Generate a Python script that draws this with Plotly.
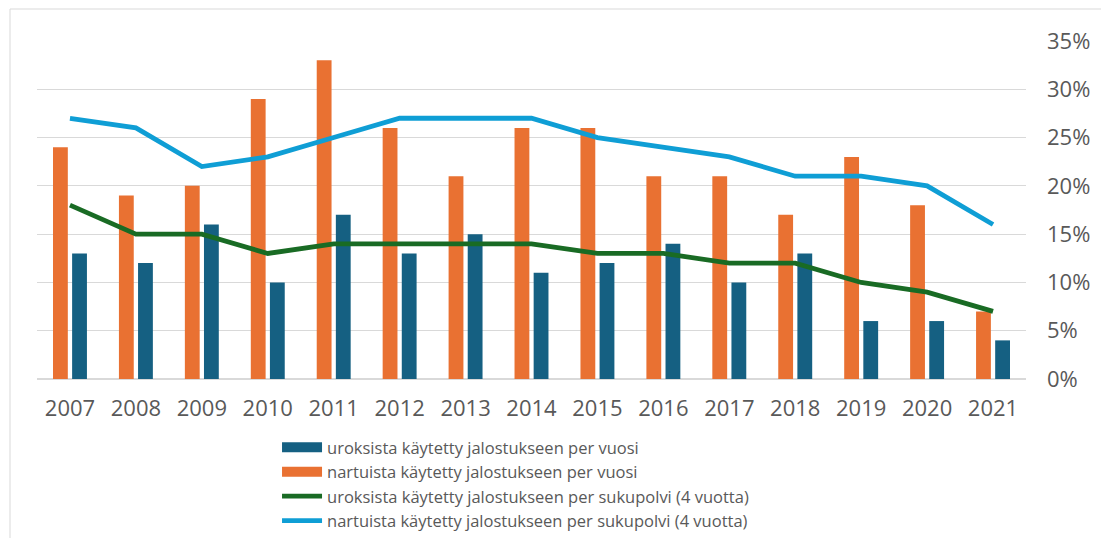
import plotly.graph_objects as go

years = [str(y) for y in range(2007, 2022)]
urokset_vuosi = [0.13, 0.12, 0.16, 0.10, 0.17, 0.13, 0.15, 0.11, 0.12, 0.14, 0.10, 0.13, 0.06, 0.06, 0.04]
nartut_vuosi = [0.24, 0.19, 0.20, 0.29, 0.33, 0.26, 0.21, 0.26, 0.26, 0.21, 0.21, 0.17, 0.23, 0.18, 0.07]
urokset_suku = [0.18, 0.15, 0.15, 0.13, 0.14, 0.14, 0.14, 0.14, 0.13, 0.13, 0.12, 0.12, 0.10, 0.09, 0.07]
nartut_suku = [0.27, 0.26, 0.22, 0.23, 0.25, 0.27, 0.27, 0.27, 0.25, 0.24, 0.23, 0.21, 0.21, 0.20, 0.16]

names = [
    "uroksista käytetty jalostukseen per vuosi",
    "nartuista käytetty jalostukseen per vuosi",
    "uroksista käytetty jalostukseen per sukupolvi (4 vuotta)",
    "nartuista käytetty jalostukseen per sukupolvi (4 vuotta)",
]
c_blue = "#156082"
c_orange = "#E97132"
c_green = "#196B24"
c_light = "#0F9ED5"

FONT = "Open Sans"
GREY = "#595959"

fig = go.Figure()
fig.add_trace(go.Bar(x=years, y=nartut_vuosi, name=names[1], marker_color=c_orange,
                     marker_line_width=0, showlegend=False))
fig.add_trace(go.Bar(x=years, y=urokset_vuosi, name=names[0], marker_color=c_blue,
                     marker_line_width=0, showlegend=False))
fig.add_trace(go.Scatter(x=years, y=urokset_suku, name=names[2], mode="lines",
                         line=dict(color=c_green, width=4.8), legendrank=3))
fig.add_trace(go.Scatter(x=years, y=nartut_suku, name=names[3], mode="lines",
                         line=dict(color=c_light, width=4.8), legendrank=4))
# legend entries for the bar series (wide rectangular swatches)
fig.add_trace(go.Scatter(x=[None], y=[None], name=names[0], mode="lines",
                         line=dict(color=c_blue, width=13), legendrank=1))
fig.add_trace(go.Scatter(x=[None], y=[None], name=names[1], mode="lines",
                         line=dict(color=c_orange, width=13), legendrank=2))

W, H = 1101, 620
L, R, T = 29, 83, 33
PLOT_BOTTOM = 371
B = H - PLOT_BOTTOM
pw, ph = W - L - R, H - T - B

fig.update_layout(
    width=W, height=H,
    margin=dict(l=L, r=R, t=T, b=B),
    paper_bgcolor="white", plot_bgcolor="white",
    barmode="group", bargap=0.42, bargroupgap=0.225,
    font=dict(family=FONT, color=GREY, size=22),
    showlegend=True,
    legend=dict(orientation="v", x=0.2427, xanchor="left", y=-0.151, yanchor="top",
                font=dict(size=16.5, color=GREY), itemwidth=40,
                tracegroupgap=0, bgcolor="rgba(0,0,0,0)"),
    xaxis=dict(type="category", showgrid=False, showline=False, ticks="",
               tickfont=dict(size=22, color=GREY), ticklabelstandoff=14),
    yaxis=dict(side="right", range=[0, 0.35], dtick=0.05, tickformat=".0%",
               showgrid=True, gridcolor="#D9D9D9", gridwidth=1,
               zeroline=True, zerolinecolor="#D9D9D9", zerolinewidth=1.5,
               showline=False, ticks="", tickfont=dict(size=22, color=GREY),
               ticklabelstandoff=20),
    shapes=[dict(type="rect", xref="paper", yref="paper",
                 x0=(2 - L) / pw, x1=(1097.5 - L) / pw, y0=-0.9, y1=(PLOT_BOTTOM - 1) / ph,
                 line=dict(color="#D9D9D9", width=1), layer="below")],
)

fig.write_html("out.html")
